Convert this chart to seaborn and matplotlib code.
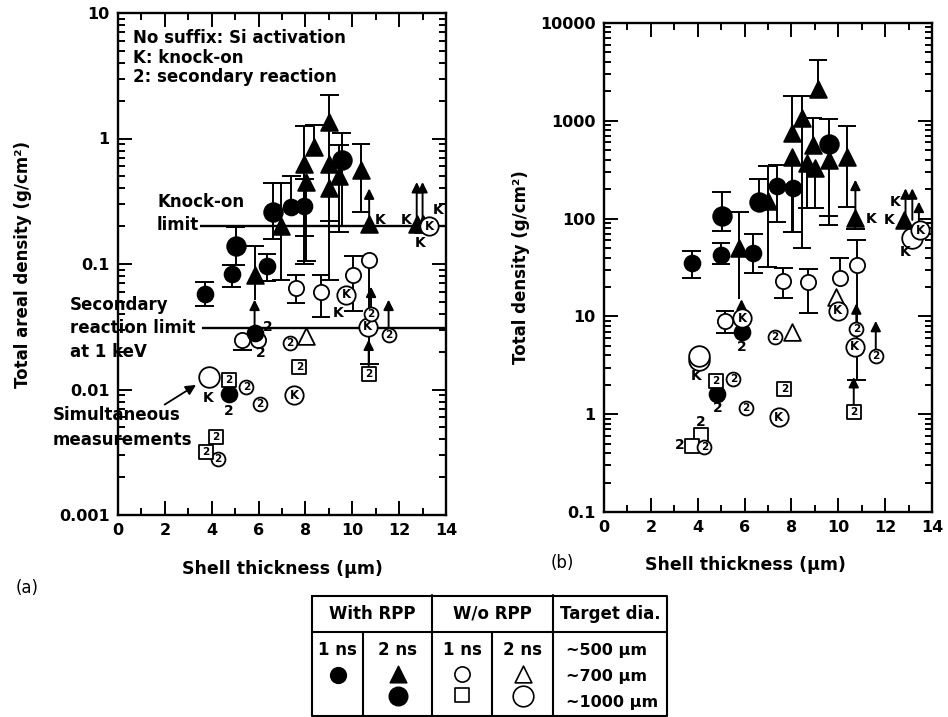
import numpy as np
import matplotlib
matplotlib.use("Agg")
import matplotlib.pyplot as plt
import matplotlib.ticker as mticker
import seaborn as sns

nan = np.nan

# ---------- (a) total areal density (g/cm2) ----------
# with RPP, 2 ns (filled triangles)
a_tri_x = [5.83, 6.96, 7.96, 8.03, 8.38, 9.02, 9.02, 9.02, 9.45, 10.37, 10.72, 12.75, 13.0]
a_tri_y = [0.082, 0.20, 0.63, 0.45, 0.86, 1.36, 0.63, 0.40, 0.50, 0.56, 0.21, 0.21, 0.21]
a_tri_hi = [0.14, 0.44, 1.25, nan, 1.28, 2.22, nan, nan, 0.89, 0.90, nan, nan, nan]
a_tri_lo = [nan, 0.074, 0.10, 0.105, nan, 0.075, nan, 0.22, 0.18, 0.26, nan, nan, nan]
# with RPP, small / big filled circles
a_dot_x = [3.70, 4.85, 6.36, 7.39, 7.96]
a_dot_y = [0.058, 0.084, 0.097, 0.286, 0.29]
a_dot_hi = [0.072, 0.098, 0.12, 0.50, 0.48]
a_dot_lo = [0.046, 0.066, 0.073, nan, 0.166]
a_bigdot_x = [5.02, 6.61, 9.55]
a_bigdot_y = [0.14, 0.26, 0.68]
a_bigdot_hi = [0.198, 0.445, 1.10]
a_bigdot_lo = [0.098, 0.157, 0.20]
a_dot2_x = [5.83, 4.74]
a_dot2_y = [0.028, 0.0092]
# without RPP
a_ring_x = [5.3, 5.96, 7.6, 8.67, 10.04, 10.72]
a_ring_y = [0.025, 0.025, 0.064, 0.060, 0.082, 0.108]
a_ring_hi = [nan, nan, 0.082, 0.082, 0.115, nan]
a_ring_lo = [0.0205, nan, 0.049, 0.038, 0.042, 0.016]
a_bigring_x = [3.89]
a_bigring_y = [0.0126]
a_ringk_x = [9.73, 10.65, 7.53, 13.28]
a_ringk_y = [0.057, 0.0316, 0.009, 0.20]
a_ring2_x = [7.35, 10.8, 11.55, 5.48, 6.04, 4.27]
a_ring2_y = [0.0236, 0.040, 0.027, 0.0105, 0.0077, 0.0028]
a_box2_x = [7.74, 10.7, 4.74, 4.17, 3.74]
a_box2_y = [0.0152, 0.0133, 0.012, 0.0042, 0.0032]
a_otri_x = [8.03]
a_otri_y = [0.0267]
# lower limits (arrows) and plain stems
a_arrow_x = [5.83, 10.72, 12.75, 13.0, 10.8, 11.55, 10.7]
a_arrow_y0 = [0.028, 0.21, 0.21, 0.21, 0.040, 0.027, 0.0133]
a_arrow_y1 = [0.052, 0.40, 0.45, 0.45, 0.066, 0.052, 0.025]
a_stem_x = [5.83]
a_stem_y0 = [0.052]
a_stem_y1 = [0.082]
a_note_x = [3.85, 11.2, 12.3, 12.9, 13.65, 9.4, 6.4, 6.11, 4.74]
a_note_y = [0.0085, 0.225, 0.225, 0.148, 0.27, 0.041, 0.0316, 0.0195, 0.0068]
a_note_txt = ['K', 'K', 'K', 'K', 'K', 'K', '2', '2', '2']
knockon_limit = 0.2
secondary_limit = 0.031

# ---------- (b) total density (g/cm3) ----------
b_tri_x = [5.78, 6.99, 8.02, 8.02, 8.45, 8.66, 8.90, 8.99, 9.13, 9.59, 10.37, 10.73, 12.80]
b_tri_y = [50, 152, 745, 430, 1060, 367, 566, 327, 2090, 398, 430, 101, 97]
b_tri_hi = [117, 345, 1807, nan, 1807, nan, 1060, nan, 4180, nan, 885, nan, nan]
b_tri_lo = [nan, 32, nan, 73, 49.5, 127, nan, 127, nan, 86, 132, 78, nan]
b_dot_x = [3.74, 4.99, 6.37, 7.38, 8.05]
b_dot_y = [35, 42, 44, 216, 206]
b_dot_hi = [47, 56, 69, 350, nan]
b_dot_lo = [24.6, 34, 28, 93, 73]
b_bigdot_x = [5.02, 6.60, 9.59]
b_bigdot_y = [106, 148, 575]
b_bigdot_hi = [186, 255, 1040]
b_bigdot_lo = [75, nan, 106]
b_dot2_x = [5.87, 4.81]
b_dot2_y = [7.0, 1.6]
b_ring_x = [5.17, 7.65, 8.72, 10.06, 10.78]
b_ring_y = [9.0, 23.2, 22.3, 24.6, 33.8]
b_ring_hi = [11.4, 31.6, 30.5, 40, 61]
b_ring_lo = [6.7, 15.3, 10.9, nan, 2.24]
b_bigring_x = [4.05, 4.05, 13.15]
b_bigring_y = [3.55, 3.9, 64]
b_ringk_x = [5.9, 9.97, 10.7, 7.45, 13.5]
b_ringk_y = [9.6, 11.4, 4.9, 0.93, 76]
b_ring2_x = [7.3, 10.77, 11.6, 5.52, 6.07, 4.28]
b_ring2_y = [6.1, 7.4, 3.9, 2.27, 1.17, 0.466]
b_box2_x = [4.76, 7.7, 10.66]
b_box2_y = [2.2, 1.8, 1.06]
b_box_x = [4.14, 3.74]
b_box_y = [0.61, 0.47]
b_otri_x = [9.9, 8.02]
b_otri_y = [15.8, 7.0]
b_arrow_x = [5.87, 10.73, 12.87, 13.16, 13.44, 10.77, 11.6, 10.66]
b_arrow_y0 = [7.0, 101, 97, 97, 80, 7.4, 3.9, 1.06]
b_arrow_y1 = [15, 250, 204, 204, 149, 13.6, 9.0, 2.4]
b_stem_x = [5.78]
b_stem_y0 = [15]
b_stem_y1 = [50]
b_note_x = [11.4, 12.16, 12.44, 12.87, 3.95, 5.88, 4.85, 4.14, 3.24]
b_note_y = [100, 97, 149, 46, 2.45, 4.9, 1.15, 0.84, 0.48]
b_note_txt = ['K', 'K', 'K', 'K', 'K', '2', '2', '2', '2']

# legend table
table_head = ['With RPP', 'W/o RPP', 'Target dia.']
table_pulse = ['1 ns', '2 ns', '1 ns', '2 ns']
table_dia = ['~500 µm', '~700 µm', '~1000 µm']

sns.set_theme(style='ticks')
plt.rcParams['font.family'] = ['DejaVu Sans']
plt.rcParams['font.weight'] = 'bold'
plt.rcParams['axes.labelweight'] = 'bold'
for key in ('text.color', 'axes.labelcolor', 'xtick.color', 'ytick.color', 'axes.edgecolor'):
    plt.rcParams[key] = 'black'

S_DOT, S_BIGDOT, S_TRI = 130, 180, 145
S_RING, S_BIGRING, S_RINGK, S_RING2, S_BOX = 120, 220, 175, 100, 88
ARROW = dict(arrowstyle='-|>', color='black', lw=1.4, mutation_scale=15, shrinkA=0, shrinkB=0)


def marks(ax, x, y, marker, size, filled, z=4):
    if len(x) == 0:
        return
    sns.scatterplot(x=list(x), y=list(y), marker=marker, s=size,
                    color='black' if filled else 'white', edgecolor='black',
                    linewidth=1.3, ax=ax, legend=False, zorder=z)


def bars(ax, x, y, hi, lo, w=0.4):
    x = np.asarray(x, float)
    y = np.asarray(y, float)
    hi = np.asarray(hi, float)
    lo = np.asarray(lo, float)
    top = np.where(np.isnan(hi), y, hi)
    bot = np.where(np.isnan(lo), y, lo)
    ax.vlines(x, bot, top, color='black', lw=1.4, zorder=2)
    m = ~np.isnan(hi)
    ax.hlines(hi[m], x[m] - w, x[m] + w, color='black', lw=1.4, zorder=2)
    m = ~np.isnan(lo)
    ax.hlines(lo[m], x[m] - w, x[m] + w, color='black', lw=1.4, zorder=2)


def arrows(ax, x, y0, y1):
    for xi, a, b in zip(x, y0, y1):
        ax.annotate('', xy=(xi, b), xytext=(xi, a), arrowprops=ARROW, zorder=3)


def tagged(ax, x, y, tag, marker, size, fs):
    marks(ax, x, y, marker, size, False, z=5)
    for xi, yi in zip(x, y):
        ax.text(xi, yi, tag, ha='center', va='center', fontsize=fs,
                fontweight='bold', zorder=6)


def notes(ax, x, y, txt):
    for xi, yi, t in zip(x, y, txt):
        ax.text(xi, yi, t, ha='center', va='center', fontsize=10,
                fontweight='bold', zorder=6)


def style_axes(ax, ylim):
    ax.set_yscale('log')
    ax.set_xlim(0, 14)
    ax.set_ylim(*ylim)
    ax.set_xticks(range(0, 15, 2))
    ax.xaxis.set_minor_locator(mticker.MultipleLocator(1))
    ax.yaxis.set_major_locator(mticker.LogLocator(base=10, numticks=12))
    ax.yaxis.set_minor_locator(mticker.LogLocator(base=10, subs=np.arange(2, 10), numticks=12))
    ax.yaxis.set_major_formatter(mticker.FuncFormatter(lambda v, p: f'{v:g}'))
    ax.yaxis.set_minor_formatter(mticker.NullFormatter())
    ax.tick_params(which='both', direction='in', top=True, right=True, width=1.4)
    ax.tick_params(which='major', length=10, labelsize=11.5, pad=6)
    ax.tick_params(which='minor', length=5)
    for sp in ax.spines.values():
        sp.set_linewidth(1.7)


def draw_panel(ax, d):
    bars(ax, d['tri_x'], d['tri_y'], d['tri_hi'], d['tri_lo'])
    bars(ax, d['dot_x'], d['dot_y'], d['dot_hi'], d['dot_lo'])
    bars(ax, d['bigdot_x'], d['bigdot_y'], d['bigdot_hi'], d['bigdot_lo'])
    bars(ax, d['ring_x'], d['ring_y'], d['ring_hi'], d['ring_lo'])
    ax.vlines(d['stem_x'], d['stem_y0'], d['stem_y1'], color='black', lw=1.4, zorder=2)
    arrows(ax, d['arrow_x'], d['arrow_y0'], d['arrow_y1'])
    marks(ax, d['ring_x'], d['ring_y'], 'o', S_RING, False)
    marks(ax, d['bigring_x'], d['bigring_y'], 'o', S_BIGRING, False)
    marks(ax, d['box_x'], d['box_y'], 's', S_BOX, False)
    marks(ax, d['otri_x'], d['otri_y'], '^', S_TRI, False)
    marks(ax, d['tri_x'], d['tri_y'], '^', S_TRI, True)
    marks(ax, d['dot_x'], d['dot_y'], 'o', S_DOT, True)
    marks(ax, d['bigdot_x'], d['bigdot_y'], 'o', S_BIGDOT, True)
    marks(ax, d['dot2_x'], d['dot2_y'], 'o', S_DOT, True)
    tagged(ax, d['ringk_x'], d['ringk_y'], 'K', 'o', S_RINGK, 8.5)
    tagged(ax, d['ring2_x'], d['ring2_y'], '2', 'o', S_RING2, 7.5)
    tagged(ax, d['box2_x'], d['box2_y'], '2', 's', S_BOX, 7.5)
    notes(ax, d['note_x'], d['note_y'], d['note_txt'])


panel_a = dict(tri_x=a_tri_x, tri_y=a_tri_y, tri_hi=a_tri_hi, tri_lo=a_tri_lo,
               dot_x=a_dot_x, dot_y=a_dot_y, dot_hi=a_dot_hi, dot_lo=a_dot_lo,
               bigdot_x=a_bigdot_x, bigdot_y=a_bigdot_y, bigdot_hi=a_bigdot_hi, bigdot_lo=a_bigdot_lo,
               dot2_x=a_dot2_x, dot2_y=a_dot2_y,
               ring_x=a_ring_x, ring_y=a_ring_y, ring_hi=a_ring_hi, ring_lo=a_ring_lo,
               bigring_x=a_bigring_x, bigring_y=a_bigring_y,
               ringk_x=a_ringk_x, ringk_y=a_ringk_y, ring2_x=a_ring2_x, ring2_y=a_ring2_y,
               box2_x=a_box2_x, box2_y=a_box2_y, box_x=[], box_y=[],
               otri_x=a_otri_x, otri_y=a_otri_y,
               arrow_x=a_arrow_x, arrow_y0=a_arrow_y0, arrow_y1=a_arrow_y1,
               stem_x=a_stem_x, stem_y0=a_stem_y0, stem_y1=a_stem_y1,
               note_x=a_note_x, note_y=a_note_y, note_txt=a_note_txt)
panel_b = dict(tri_x=b_tri_x, tri_y=b_tri_y, tri_hi=b_tri_hi, tri_lo=b_tri_lo,
               dot_x=b_dot_x, dot_y=b_dot_y, dot_hi=b_dot_hi, dot_lo=b_dot_lo,
               bigdot_x=b_bigdot_x, bigdot_y=b_bigdot_y, bigdot_hi=b_bigdot_hi, bigdot_lo=b_bigdot_lo,
               dot2_x=b_dot2_x, dot2_y=b_dot2_y,
               ring_x=b_ring_x, ring_y=b_ring_y, ring_hi=b_ring_hi, ring_lo=b_ring_lo,
               bigring_x=b_bigring_x, bigring_y=b_bigring_y,
               ringk_x=b_ringk_x, ringk_y=b_ringk_y, ring2_x=b_ring2_x, ring2_y=b_ring2_y,
               box2_x=b_box2_x, box2_y=b_box2_y, box_x=b_box_x, box_y=b_box_y,
               otri_x=b_otri_x, otri_y=b_otri_y,
               arrow_x=b_arrow_x, arrow_y0=b_arrow_y0, arrow_y1=b_arrow_y1,
               stem_x=b_stem_x, stem_y0=b_stem_y0, stem_y1=b_stem_y1,
               note_x=b_note_x, note_y=b_note_y, note_txt=b_note_txt)

fig = plt.figure(figsize=(9.48, 7.17), dpi=100)
fig.patch.set_facecolor('white')

# ---- panel (a)
ax_a = fig.add_axes([118 / 948, 1 - 515 / 717, 328 / 948, 502 / 717])
style_axes(ax_a, (0.001, 10))
draw_panel(ax_a, panel_a)
ax_a.hlines(knockon_limit, 3.49, 14, color='black', lw=1.7, zorder=2)
ax_a.hlines(secondary_limit, 3.57, 14, color='black', lw=1.7, zorder=2)
tk = dict(transform=ax_a.transAxes, fontsize=12, fontweight='bold', ha='left', va='center')
ax_a.text(0.046, 0.950, 'No suffix: Si activation', **tk)
ax_a.text(0.046, 0.910, 'K: knock-on', **tk)
ax_a.text(0.046, 0.872, '2: secondary reaction', **tk)
ax_a.text(0.119, 0.624, 'Knock-on', **tk)
ax_a.text(0.119, 0.578, 'limit', **tk)
ax_a.text(-0.146, 0.418, 'Secondary', **tk)
ax_a.text(-0.146, 0.373, 'reaction limit', **tk)
ax_a.text(-0.146, 0.325, 'at 1 keV', **tk)
ax_a.text(-0.198, 0.199, 'Simultaneous', **tk)
ax_a.text(-0.198, 0.149, 'measurements', **tk)
ax_a.annotate('', xy=(0.245, 0.262), xytext=(0.135, 0.217), xycoords='axes fraction',
              arrowprops=dict(arrowstyle='-|>', color='black', lw=1.3, mutation_scale=15))
ax_a.set_xlabel('Shell thickness (µm)', fontsize=12.5)
ax_a.set_ylabel('Total areal density (g/cm²)', fontsize=12)
ax_a.xaxis.set_label_coords(0.5, -0.09)
ax_a.yaxis.set_label_coords(-0.262, 0.5)

# ---- panel (b)
ax_b = fig.add_axes([604 / 948, 1 - 512 / 717, 328 / 948, 489 / 717])
style_axes(ax_b, (0.1, 10000))
draw_panel(ax_b, panel_b)
ax_b.set_xlabel('Shell thickness (µm)', fontsize=12.5)
ax_b.set_ylabel('Total density (g/cm²)', fontsize=12)
ax_b.xaxis.set_label_coords(0.43, -0.09)
ax_b.yaxis.set_label_coords(-0.225, 0.5)

fig.text(27 / 948, 1 - 588 / 717, '(a)', fontsize=12, fontweight='normal', ha='center', va='center')
fig.text(562 / 948, 1 - 563 / 717, '(b)', fontsize=12, fontweight='normal', ha='center', va='center')

# ---- legend table
tab = fig.add_axes([312 / 948, 0, 355 / 948, 122 / 717])
tab.set_xlim(0, 355)
tab.set_ylim(122, 0)
tab.axis('off')
lk = dict(color='black', lw=1.5, clip_on=False)
tab.plot([0, 355, 355, 0, 0], [0.8, 0.8, 121.2, 121.2, 0.8], **lk)
tab.plot([0, 355], [37, 37], **lk)
for xv in (120, 241):
    tab.plot([xv, xv], [0, 122], **lk)
for xv in (51, 180):
    tab.plot([xv, xv], [37, 122], **lk)
tt = dict(fontsize=12, fontweight='bold', va='center')
for cx, t in zip([60, 180, 298], table_head):
    tab.text(cx, 19, t, ha='center', **tt)
for cx, t in zip([25.5, 85.5, 150, 210.5], table_pulse):
    tab.text(cx, 55, t, ha='center', **tt)
for cy, t in zip([56, 82, 107], table_dia):
    tab.text(254, cy, t, ha='left', fontsize=11.5, fontweight='bold', va='center')
tab.scatter([25.5], [80], marker='o', s=S_DOT, c='black', clip_on=False)
tab.scatter([85.5], [79], marker='^', s=S_TRI, c='black', clip_on=False)
tab.scatter([85.5], [101], marker='o', s=S_BIGDOT, c='black', clip_on=False)
tab.scatter([150], [79], marker='o', s=S_RING, facecolors='white', edgecolors='black', linewidths=1.2, clip_on=False)
tab.scatter([150], [100], marker='s', s=S_BOX, facecolors='white', edgecolors='black', linewidths=1.2, clip_on=False)
tab.scatter([210.5], [79], marker='^', s=S_TRI, facecolors='white', edgecolors='black', linewidths=1.2, clip_on=False)
tab.scatter([210.5], [101], marker='o', s=S_BIGRING, facecolors='white', edgecolors='black', linewidths=1.2, clip_on=False)

fig.savefig('out.png', dpi=100, facecolor='white')
